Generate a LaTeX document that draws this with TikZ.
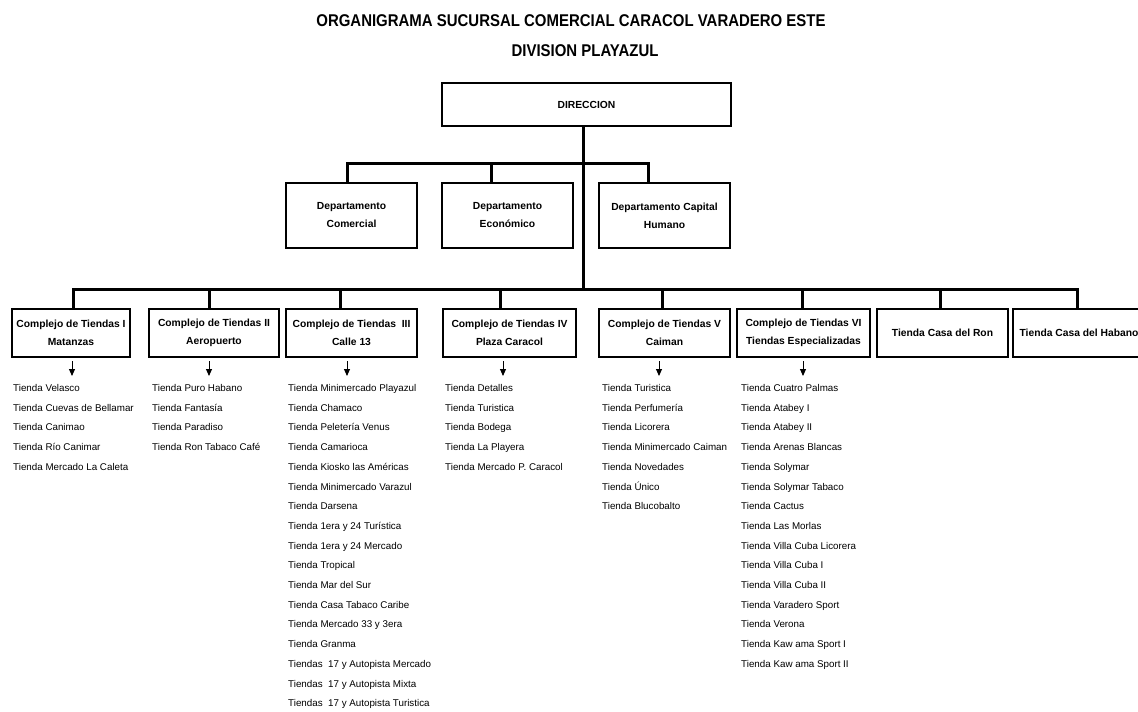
\documentclass[tikz,border=0pt]{standalone}
\usepackage{fontspec}
\setmainfont{Liberation Sans}
\usepackage{graphicx}
\usetikzlibrary{arrows.meta}
\begin{document}
\begin{tikzpicture}[x=1pt,y=-1pt,
  box/.style={draw, line width=2.6pt, inner sep=2pt, align=center,
    font=\bfseries\fontsize{10.3}{18}\selectfont},
  conn/.style={line width=3pt, line join=miter},
  arr/.style={line width=0.9pt, -{Triangle[length=7pt,width=6pt]}},
  item/.style={anchor=west, inner sep=0pt, text height=7pt, text depth=2pt,
    font=\fontsize{9.8}{11}\selectfont},
  ttl/.style={font=\bfseries\fontsize{17}{18}\selectfont, inner sep=0pt}]
\useasboundingbox (0,0) rectangle (1138,712);
\fill[white] (0,0) rectangle (1138,712);
\clip (0,0) rectangle (1138,712);

% titles
\node[ttl] (t1) at (571,21) {\scalebox{0.88}[1]{ORGANIGRAMA SUCURSAL COMERCIAL CARACOL VARADERO ESTE}};
\node[ttl] (t2) at (585,51) {\scalebox{0.88}[1]{DIVISION PLAYAZUL}};

% direction and departments
\node[box, minimum width=289pt, minimum height=43pt] (dir) at (586.5,104.5) {DIRECCION};
\node[box, minimum width=131pt, minimum height=65pt] (dc) at (351.5,215.5) {Departamento\\Comercial};
\node[box, minimum width=131pt, minimum height=65pt] (de) at (507.5,215.5) {Departamento\\Económico};
\node[box, minimum width=131pt, minimum height=65pt] (dh) at (664.5,215.5) {Departamento Capital\\Humano};

% complexes
\node[box, minimum width=118pt, minimum height=48pt] (c1) at (71,333) {Complejo de Tiendas I\\Matanzas};
\node[box, minimum width=130pt, minimum height=48pt] (c2) at (214,333) {Complejo de Tiendas II\\Aeropuerto};
\node[box, minimum width=131pt, minimum height=48pt] (c3) at (351.5,333) {Complejo de Tiendas~~III\\Calle 13};
\node[box, minimum width=133pt, minimum height=48pt] (c4) at (509.5,333) {Complejo de Tiendas IV\\Plaza Caracol};
\node[box, minimum width=131pt, minimum height=48pt] (c5) at (664.5,333) {Complejo de Tiendas V\\Caiman};
\node[box, minimum width=133pt, minimum height=48pt] (c6) at (803.5,333) {Complejo de Tiendas VI\\Tiendas Especializadas};
\node[box, minimum width=131pt, minimum height=48pt] (c7) at (942.5,333) {Tienda Casa del Ron};
\node[box, minimum width=132pt, minimum height=48pt] (c8) at (1079,333) {Tienda Casa del Habano};

% connectors
\coordinate (v) at (583,289);
\coordinate (b1) at (347,163);
\coordinate (b2) at (491,163);
\coordinate (b3) at (648,163);
\draw[conn] (dir.south -| v) -- (v);
\draw[conn] (b1 |- dc.north) -- (b1) -- (b3) -- (b3 |- dh.north);
\draw[conn] (b2) -- (b2 |- de.north);

\coordinate (m1) at (73,289);
\coordinate (m2) at (209,289);
\coordinate (m3) at (340,289);
\coordinate (m4) at (500,289);
\coordinate (m5) at (662,289);
\coordinate (m6) at (802,289);
\coordinate (m7) at (940,289);
\coordinate (m8) at (1077,289);
\draw[conn] (m1 |- c1.north) -- (m1) -- (m8) -- (m8 |- c8.north);
\foreach \i in {2,...,7} \draw[conn] (m\i) -- (m\i |- c\i.north);

% arrows
\foreach \i/\x in {1/72,2/209,3/347,4/503,5/659,6/803} {
  \coordinate (a\i) at (\x,376);
  \draw[arr] ([yshift=-3pt]c\i.south -| a\i) -- (a\i);
}

% lists
\foreach \t [count=\i] in {Tienda Velasco, Tienda Cuevas de Bellamar, Tienda Canimao, Tienda Río Canimar, Tienda Mercado La Caleta}
  \node[item] (l1-\i) at (13,{389+(\i-1)*19.7}) {\t};
\foreach \t [count=\i] in {Tienda Puro Habano, Tienda Fantasía, Tienda Paradiso, Tienda Ron Tabaco Café}
  \node[item] (l2-\i) at (152,{389+(\i-1)*19.7}) {\t};
\foreach \t [count=\i] in {Tienda Minimercado Playazul, Tienda Chamaco, Tienda Peletería Venus, Tienda Camarioca, Tienda Kiosko las Américas, Tienda Minimercado Varazul, Tienda Darsena, Tienda 1era y 24 Turística, Tienda 1era y 24 Mercado, Tienda Tropical, Tienda Mar del Sur, Tienda Casa Tabaco Caribe, Tienda Mercado 33 y 3era, Tienda Granma, Tiendas~~17 y Autopista Mercado, Tiendas~~17 y Autopista Mixta, Tiendas~~17 y Autopista Turistica}
  \node[item] (l3-\i) at (288,{389+(\i-1)*19.7}) {\t};
\foreach \t [count=\i] in {Tienda Detalles, Tienda Turistica, Tienda Bodega, Tienda La Playera, Tienda Mercado P. Caracol}
  \node[item] (l4-\i) at (445,{389+(\i-1)*19.7}) {\t};
\foreach \t [count=\i] in {Tienda Turistica, Tienda Perfumería, Tienda Licorera, Tienda Minimercado Caiman, Tienda Novedades, Tienda Único, Tienda Blucobalto}
  \node[item] (l5-\i) at (602,{389+(\i-1)*19.7}) {\t};
\foreach \t [count=\i] in {Tienda Cuatro Palmas, Tienda Atabey I, Tienda Atabey II, Tienda Arenas Blancas, Tienda Solymar, Tienda Solymar Tabaco, Tienda Cactus, Tienda Las Morlas, Tienda Villa Cuba Licorera, Tienda Villa Cuba I, Tienda Villa Cuba II, Tienda Varadero Sport, Tienda Verona, Tienda Kaw ama Sport I, Tienda Kaw ama Sport II}
  \node[item] (l6-\i) at (741,{389+(\i-1)*19.7}) {\t};
\end{tikzpicture}
\end{document}
